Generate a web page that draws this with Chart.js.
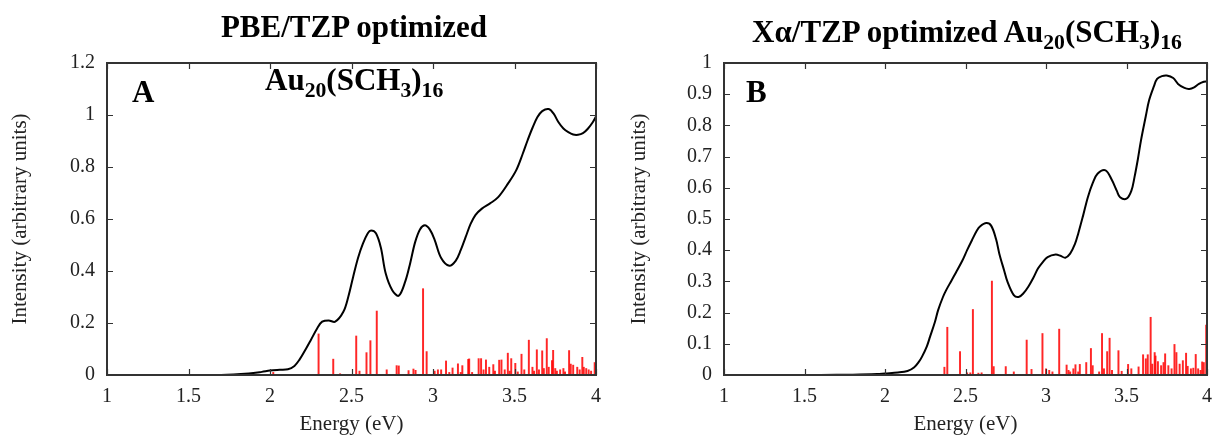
<!DOCTYPE html>
<html>
<head>
<meta charset="utf-8">
<script src="https://cdn.jsdelivr.net/npm/chart.js@4"></script>
<style>
    body { margin: 0; background: #fff; width: 1222px; height: 439px; position: relative; overflow: hidden; font-family: 'Liberation Serif', 'Times New Roman', serif; }
    .panel { position: absolute; top: 0; width: 611px; height: 439px; }
    .txt { position: absolute; font-weight: bold; color: #000; white-space: nowrap; font-size: 31px; line-height: 31px; }
    .txt .s { font-size: 0.7em; position: relative; top: 0.34em; }
</style>
</head>
<body>
<div class="panel" style="left:0"><canvas id="chartA" width="611" height="439"></canvas></div>
<div class="panel" style="left:611px"><canvas id="chartB" width="611" height="439"></canvas></div>

<div class="txt" style="left:54px; top:11px; width:600px; text-align:center;">PBE/TZP optimized</div>
<div class="txt" style="left:667px; top:16px; width:600px; text-align:center;">Xα/TZP optimized Au<span class="s">20</span>(SCH<span class="s">3</span>)<span class="s">16</span></div>
<div class="txt" style="left:265px; top:64px;">Au<span class="s">20</span>(SCH<span class="s">3</span>)<span class="s">16</span></div>
<div class="txt" style="left:132px; top:76px;">A</div>
<div class="txt" style="left:746px; top:76px;">B</div>

<script>
// Tick values
const xTicks = [1, 1.5, 2, 2.5, 3, 3.5, 4];
const yTicksA = [0, 0.2, 0.4, 0.6, 0.8, 1, 1.2];
const yTicksB = [0, 0.1, 0.2, 0.3, 0.4, 0.5, 0.6, 0.7, 0.8, 0.9, 1];

// Panel A: broadened spectrum (PBE/TZP)
const curveEA = [1.5, 1.7, 1.87, 1.95, 2.0, 2.06, 2.11, 2.15, 2.18, 2.22,
                 2.25, 2.29, 2.32, 2.36, 2.40, 2.45, 2.48, 2.51, 2.54, 2.57,
                 2.60, 2.62, 2.65, 2.68, 2.71, 2.75, 2.79, 2.83, 2.86, 2.89,
                 2.92, 2.95, 2.98, 3.01, 3.05, 3.10, 3.14, 3.17, 3.20, 3.23,
                 3.26, 3.30, 3.35, 3.40, 3.46, 3.51, 3.55, 3.58, 3.61, 3.64,
                 3.67, 3.71, 3.74, 3.77, 3.80, 3.83, 3.86, 3.89, 3.92, 3.95,
                 3.98, 4.0];
const curveIA = [0, 0, 0.006, 0.012, 0.017, 0.02, 0.022, 0.035, 0.058, 0.1,
                 0.134, 0.18, 0.205, 0.21, 0.205, 0.243, 0.3, 0.377, 0.45, 0.505,
                 0.545, 0.556, 0.545, 0.49, 0.39, 0.326, 0.305, 0.36, 0.43, 0.51,
                 0.56, 0.576, 0.56, 0.52, 0.45, 0.42, 0.44, 0.48, 0.53, 0.58,
                 0.615, 0.64, 0.66, 0.684, 0.736, 0.787, 0.85, 0.902, 0.95, 0.991,
                 1.015, 1.023, 1.005, 0.972, 0.948, 0.934, 0.925, 0.924, 0.93, 0.947,
                 0.972, 0.994];

// Panel A: oscillator strengths (sticks)
const stickEA = [2.02, 2.298, 2.388, 2.43, 2.529, 2.549, 2.592, 2.616, 2.655, 2.716,
                 2.777, 2.79, 2.85, 2.88, 2.893, 2.939, 2.961, 3.01, 3.03, 3.05,
                 3.08, 3.10, 3.12, 3.153, 3.17, 3.18, 3.216, 3.222, 3.24, 3.28,
                 3.295, 3.31, 3.325, 3.345, 3.37, 3.38, 3.406, 3.42, 3.44, 3.459,
                 3.47, 3.48, 3.505, 3.52, 3.543, 3.56, 3.588, 3.61, 3.62, 3.637,
                 3.65, 3.67, 3.68, 3.698, 3.71, 3.73, 3.737, 3.75, 3.76, 3.78,
                 3.8, 3.81, 3.835, 3.845, 3.86, 3.885, 3.9, 3.916, 3.925, 3.94,
                 3.955, 3.97, 3.992];
const stickIA = [0.01, 0.158, 0.061, 0.005, 0.15, 0.015, 0.086, 0.132, 0.246, 0.02,
                 0.036, 0.035, 0.017, 0.023, 0.018, 0.332, 0.09, 0.015, 0.02, 0.02,
                 0.054, 0.01, 0.027, 0.043, 0.01, 0.036, 0.06, 0.062, 0.01, 0.063,
                 0.063, 0.02, 0.058, 0.03, 0.04, 0.015, 0.057, 0.058, 0.02, 0.084,
                 0.015, 0.063, 0.045, 0.012, 0.08, 0.02, 0.134, 0.03, 0.015, 0.097,
                 0.02, 0.093, 0.025, 0.14, 0.03, 0.055, 0.095, 0.025, 0.015, 0.02,
                 0.025, 0.012, 0.094, 0.042, 0.038, 0.03, 0.02, 0.068, 0.03, 0.025,
                 0.02, 0.015, 0.048];

// Panel B: broadened spectrum (Xalpha/TZP)
const curveEB = [1.6, 1.8, 1.95, 2.0, 2.08, 2.14, 2.18, 2.21, 2.23, 2.26,
                 2.28, 2.31, 2.33, 2.36, 2.38, 2.41, 2.44, 2.48, 2.51, 2.54,
                 2.57, 2.59, 2.63, 2.66, 2.69, 2.71, 2.74, 2.76, 2.80, 2.83,
                 2.86, 2.89, 2.92, 2.95, 2.98, 3.01, 3.06, 3.09, 3.12, 3.15,
                 3.18, 3.20, 3.23, 3.26, 3.29, 3.32, 3.37, 3.41, 3.44, 3.46,
                 3.50, 3.53, 3.55, 3.57, 3.59, 3.62, 3.64, 3.67, 3.69, 3.72,
                 3.75, 3.79, 3.82, 3.86, 3.89, 3.92, 3.95, 3.98, 4.0];
const curveIB = [0, 0.001, 0.003, 0.005, 0.008, 0.013, 0.024, 0.042, 0.059, 0.092,
                 0.123, 0.17, 0.208, 0.25, 0.272, 0.3, 0.328, 0.366, 0.4, 0.432,
                 0.462, 0.476, 0.487, 0.478, 0.435, 0.389, 0.335, 0.3, 0.256, 0.25,
                 0.262, 0.283, 0.31, 0.341, 0.362, 0.378, 0.386, 0.382, 0.376, 0.389,
                 0.42, 0.453, 0.51, 0.57, 0.615, 0.645, 0.656, 0.624, 0.59, 0.57,
                 0.565, 0.59, 0.635, 0.69, 0.752, 0.83, 0.88, 0.925, 0.949, 0.958,
                 0.96, 0.952, 0.933, 0.92, 0.917, 0.922, 0.933, 0.94, 0.941];

// Panel B: oscillator strengths (sticks)
const stickEB = [2.369, 2.387, 2.466, 2.51, 2.53, 2.546, 2.58, 2.6, 2.664, 2.675,
                 2.75, 2.80, 2.88, 2.91, 2.978, 3.0, 3.02, 3.04, 3.082, 3.128,
                 3.14, 3.15, 3.17, 3.183, 3.2, 3.21, 3.25, 3.279, 3.29, 3.33,
                 3.348, 3.36, 3.38, 3.395, 3.41, 3.45, 3.47, 3.51, 3.53, 3.575,
                 3.603, 3.62, 3.632, 3.65, 3.66, 3.675, 3.68, 3.695, 3.715, 3.73,
                 3.74, 3.76, 3.78, 3.798, 3.81, 3.83, 3.85, 3.87, 3.88, 3.90,
                 3.915, 3.93, 3.945, 3.96, 3.97, 3.98, 3.995];
const stickIB = [0.025, 0.153, 0.075, 0.007, 0.007, 0.21, 0.006, 0.007, 0.301, 0.027,
                 0.027, 0.01, 0.112, 0.018, 0.133, 0.02, 0.015, 0.01, 0.147, 0.032,
                 0.015, 0.01, 0.02, 0.033, 0.01, 0.034, 0.04, 0.085, 0.03, 0.01,
                 0.133, 0.02, 0.075, 0.118, 0.015, 0.078, 0.012, 0.034, 0.02, 0.026,
                 0.065, 0.052, 0.065, 0.185, 0.035, 0.072, 0.061, 0.043, 0.03, 0.04,
                 0.068, 0.03, 0.02, 0.098, 0.072, 0.035, 0.046, 0.07, 0.028, 0.02,
                 0.022, 0.066, 0.02, 0.015, 0.042, 0.04, 0.16];

const serif = "'Liberation Serif', 'Times New Roman', serif";

// gnuplot-like frame with inward ticks on all four sides
const framePlugin = {
    id: 'frame',
    afterDatasetsDraw(chart) {
        const { ctx, chartArea: a, scales: { x, y } } = chart;
        const len = 6;
        ctx.save();
        ctx.strokeStyle = '#333';
        ctx.lineWidth = 1.2;
        ctx.beginPath();
        x.ticks.forEach(t => {
            const px = Math.round(x.getPixelForValue(t.value)) + 0.5;
            ctx.moveTo(px, a.bottom); ctx.lineTo(px, a.bottom - len);
            ctx.moveTo(px, a.top); ctx.lineTo(px, a.top + len);
        });
        y.ticks.forEach(t => {
            const py = Math.round(y.getPixelForValue(t.value)) + 0.5;
            ctx.moveTo(a.left, py); ctx.lineTo(a.left + len, py);
            ctx.moveTo(a.right, py); ctx.lineTo(a.right - len, py);
        });
        ctx.stroke();
        ctx.lineWidth = 2;
        ctx.strokeRect(a.left, a.top, a.right - a.left, a.bottom - a.top);
        ctx.restore();
    }
};

function makePanel(id, curveE, curveI, stickE, stickI, yMax, yTicks, axisW, padRight, titlePad) {
    return new Chart(document.getElementById(id), {
        type: 'line',
        data: {
            datasets: [
                {
                    data: curveE.map((e, i) => ({ x: e, y: curveI[i] })),
                    borderColor: '#000',
                    borderWidth: 2,
                    pointRadius: 0,
                    tension: 0.35,
                    fill: false
                },
                {
                    type: 'bar',
                    data: stickE.map((e, i) => ({ x: e, y: stickI[i] })),
                    backgroundColor: 'rgba(255, 0, 0, 0.85)',
                    borderWidth: 0,
                    barThickness: 1.3
                }
            ]
        },
        options: {
            responsive: false,
            animation: false,
            events: [],
            layout: { padding: { left: 0, right: padRight, top: 63, bottom: 0 } },
            plugins: { legend: { display: false }, tooltip: { enabled: false } },
            scales: {
                x: {
                    type: 'linear',
                    min: 1,
                    max: 4,
                    offset: false,
                    grid: { display: false, drawTicks: false },
                    border: { display: false },
                    afterBuildTicks: s => { s.ticks = xTicks.map(v => ({ value: v })); },
                    afterFit: s => { s.height = 64; },
                    ticks: {
                        color: '#222',
                        font: { family: serif, size: 20 },
                        padding: 10,
                        maxRotation: 0,
                        autoSkip: false,
                        callback: v => String(v)
                    },
                    title: {
                        display: true,
                        text: 'Energy (eV)',
                        color: '#222',
                        font: { family: serif, size: 21 },
                        padding: { top: 0, bottom: 2 }
                    }
                },
                y: {
                    type: 'linear',
                    min: 0,
                    max: yMax,
                    grid: { display: false, drawTicks: false },
                    border: { display: false },
                    afterBuildTicks: s => { s.ticks = yTicks.map(v => ({ value: v })); },
                    afterFit: s => { s.width = axisW; },
                    ticks: {
                        color: '#222',
                        font: { family: serif, size: 20 },
                        padding: 12,
                        autoSkip: false,
                        callback: v => String(v)
                    },
                    title: {
                        display: true,
                        text: 'Intensity (arbitrary units)',
                        color: '#222',
                        font: { family: serif, size: 21 },
                        padding: { top: titlePad, bottom: 0 }
                    }
                }
            }
        },
        plugins: [framePlugin]
    });
}

makePanel('chartA', curveEA, curveIA, stickEA, stickIA, 1.2, yTicksA, 107, 14, 8);
makePanel('chartB', curveEB, curveIB, stickEB, stickIB, 1, yTicksB, 113, 6, 16);
</script>
</body>
</html>
